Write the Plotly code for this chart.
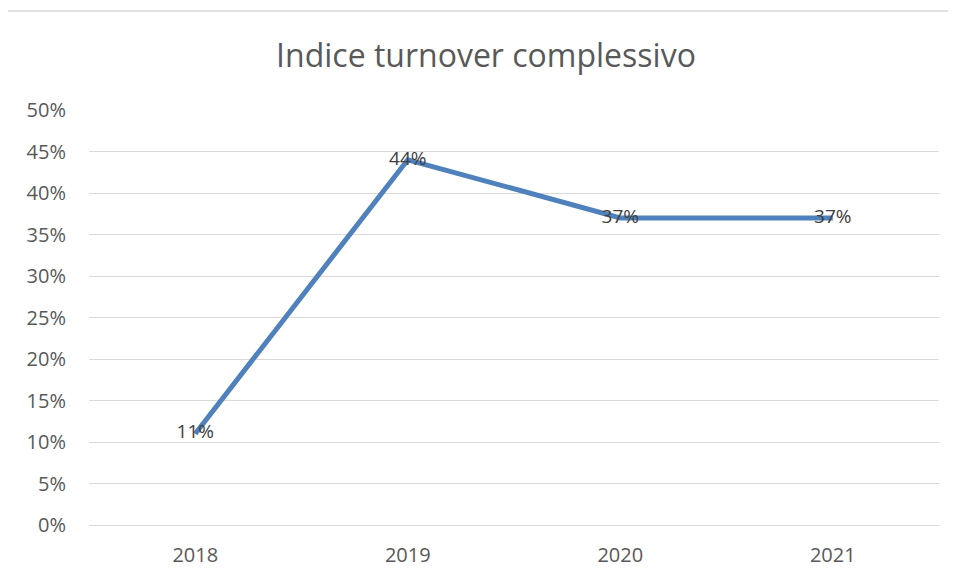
import plotly.graph_objects as go

anni = ["2018", "2019", "2020", "2021"]
turnover = [0.11, 0.44, 0.37, 0.37]
etichette = ["11%", "44%", "37%", "37%"]

fig = go.Figure()
fig.add_trace(go.Scatter(
    x=anni,
    y=turnover,
    mode="lines+text",
    text=etichette,
    textposition="middle center",
    textfont=dict(family="Open Sans", size=19, color="#404040"),
    line=dict(color="#4F81BD", width=5),
    hoverinfo="skip",
))

# la pagina aggiunge 8px di margine: compenso spostando l'area del grafico
fig.update_layout(
    width=956,
    height=577,
    margin=dict(l=81, r=25, t=102, b=60),
    paper_bgcolor="white",
    plot_bgcolor="white",
    showlegend=False,
    title=dict(
        text="Indice turnover complessivo",
        x=0.5, xanchor="center",
        y=0.918, yanchor="middle",
        font=dict(family="Open Sans", size=32, color="#595959"),
    ),
    font=dict(family="Open Sans", size=20, color="#595959"),
    shapes=[dict(
        type="rect", xref="paper", yref="paper",
        x0=-0.097, x1=1.05, y0=-0.3, y1=1.2386,
        line=dict(color="#d9d9d9", width=1.5),
        layer="below",
    )],
)

fig.update_xaxes(
    type="category",
    range=[-0.5, 3.5],
    showgrid=False,
    showline=True,
    linecolor="#d9d9d9",
    linewidth=1,
    ticks="",
    ticklabelstandoff=12,
    tickfont=dict(size=20, color="#595959"),
)
fig.update_yaxes(
    range=[0, 0.5],
    dtick=0.05,
    tickformat=".0%",
    showgrid=True,
    gridcolor="#d9d9d9",
    gridwidth=1,
    zeroline=False,
    showline=False,
    ticks="",
    ticklabelstandoff=22,
    tickfont=dict(size=20, color="#595959"),
)

fig.write_html("out.html")
